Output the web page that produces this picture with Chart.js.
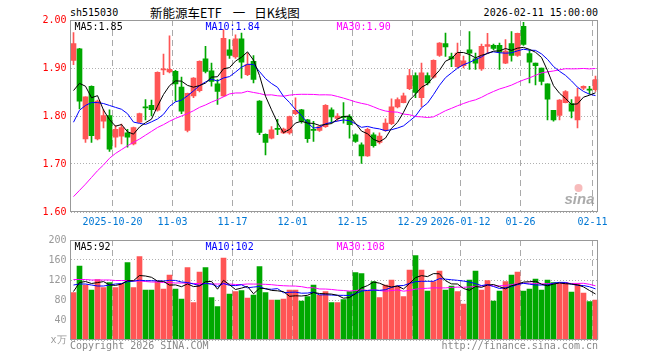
<!DOCTYPE html>
<html>
<head>
<meta charset="utf-8">
<script src="https://cdn.jsdelivr.net/npm/chart.js@4.4.1/dist/chart.umd.min.js"></script>
<style>
  body { margin: 0; background: #fff; width: 660px; height: 360px; position: relative; overflow: hidden; }
  canvas { position: absolute; left: 0; }
  .t { position: absolute; font-family: "DejaVu Sans Mono", monospace; font-size: 10px; line-height: 12px; white-space: nowrap; color: #000; }
  .ttl { font-family: "Noto Sans CJK SC", sans-serif; font-size: 12.5px; line-height: 16px; }
  .ft { color: #888; }
</style>
</head>
<body>
<div class="t" style="left:70px;top:7px">sh515030</div>
<div class="t ttl" style="left:150px;top:5px">新能源车ETF<span style="margin-left:11px">一</span><span style="margin-left:9px">日K线图</span></div>
<div class="t" style="right:62px;top:7px">2026-02-11 15:00:00</div>
<canvas id="kline" width="660" height="230" style="top:0"></canvas>
<canvas id="vol" width="660" height="130" style="top:230px"></canvas>
<div class="t ft" style="left:70px;top:340px">Copyright 2026 SINA.COM</div>
<div class="t ft" style="right:62px;top:340px">http://finance.sina.com.cn</div>
<script>
// trading days
const dates = [
  '2025-10-09','2025-10-10','2025-10-13','2025-10-14','2025-10-15','2025-10-16','2025-10-17',
  '2025-10-20','2025-10-21','2025-10-22','2025-10-23','2025-10-24','2025-10-27','2025-10-28','2025-10-29','2025-10-30','2025-10-31',
  '2025-11-03','2025-11-04','2025-11-05','2025-11-06','2025-11-07','2025-11-10','2025-11-11','2025-11-12','2025-11-13','2025-11-14',
  '2025-11-17','2025-11-18','2025-11-19','2025-11-20','2025-11-21','2025-11-24','2025-11-25','2025-11-26','2025-11-27','2025-11-28',
  '2025-12-01','2025-12-02','2025-12-03','2025-12-04','2025-12-05','2025-12-08','2025-12-09','2025-12-10','2025-12-11','2025-12-12',
  '2025-12-15','2025-12-16','2025-12-17','2025-12-18','2025-12-19','2025-12-22','2025-12-23','2025-12-24','2025-12-25','2025-12-26',
  '2025-12-29','2025-12-30','2025-12-31',
  '2026-01-05','2026-01-06','2026-01-07','2026-01-08','2026-01-09','2026-01-12','2026-01-13','2026-01-14','2026-01-15','2026-01-16',
  '2026-01-19','2026-01-20','2026-01-21','2026-01-22','2026-01-23','2026-01-26','2026-01-27','2026-01-28','2026-01-29','2026-01-30',
  '2026-02-02','2026-02-03','2026-02-04','2026-02-05','2026-02-06','2026-02-09','2026-02-10','2026-02-11'
]
const tickDates = ['2025-10-20','2025-11-03','2025-11-17','2025-12-01','2025-12-15','2025-12-29','2026-01-12','2026-01-26','2026-02-11']
const tickTexts = ['2025-10-20','11-03','11-17','12-01','12-15','12-29','2026-01-12','01-26','02-11']

const opens = [
  1.916,1.940,1.752,1.862,1.752,1.789,1.801,1.756,1.758,1.765,
  1.742,1.787,1.819,1.822,1.812,1.896,1.892,1.893,1.860,1.770,
  1.842,1.853,1.919,1.894,1.867,1.842,1.938,1.923,1.961,1.886,
  1.914,1.831,1.762,1.754,1.774,1.765,1.765,1.805,1.813,1.792,
  1.772,1.770,1.778,1.813,1.795,1.799,1.799,1.761,1.740,1.717,
  1.761,1.745,1.770,1.784,1.819,1.828,1.857,1.884,1.838,1.884,
  1.881,1.926,1.951,1.924,1.903,1.905,1.938,1.919,1.898,1.945,
  1.947,1.947,1.910,1.951,1.926,1.987,1.930,1.910,1.900,1.867,
  1.812,1.801,1.828,1.826,1.792,1.858,1.855,1.855
]
const highs = [
  1.974,1.941,1.840,1.863,1.833,1.813,1.813,1.780,1.783,1.772,
  1.777,1.806,1.834,1.833,1.892,1.929,1.967,1.895,1.881,1.848,
  1.880,1.915,1.945,1.910,1.876,1.980,1.959,1.969,1.973,1.931,
  1.926,1.832,1.763,1.778,1.793,1.775,1.800,1.838,1.814,1.793,
  1.789,1.780,1.824,1.817,1.805,1.828,1.803,1.763,1.744,1.775,
  1.765,1.765,1.794,1.836,1.838,1.848,1.897,1.890,1.910,1.890,
  1.917,1.953,1.973,1.931,1.952,1.925,1.976,1.931,1.950,1.972,
  1.950,1.952,1.959,1.976,1.973,1.995,1.938,1.910,1.900,1.867,
  1.812,1.834,1.853,1.834,1.858,1.863,1.862,1.883
]
const lows = [
  1.907,1.815,1.745,1.745,1.750,1.775,1.726,1.735,1.742,1.735,
  1.740,1.786,1.792,1.800,1.810,1.886,1.890,1.831,1.805,1.767,
  1.838,1.850,1.890,1.862,1.824,1.841,1.920,1.920,1.879,1.884,
  1.869,1.761,1.719,1.752,1.761,1.763,1.762,1.803,1.785,1.745,
  1.747,1.768,1.776,1.785,1.790,1.785,1.754,1.745,1.701,1.716,
  1.735,1.742,1.768,1.782,1.817,1.827,1.855,1.838,1.819,1.865,
  1.879,1.924,1.924,1.903,1.900,1.900,1.897,1.897,1.895,1.931,
  1.938,1.897,1.909,1.914,1.924,1.947,1.869,1.865,1.865,1.792,
  1.789,1.792,1.827,1.796,1.775,1.855,1.846,1.851
]
const closes = [
  1.951,1.831,1.840,1.759,1.831,1.801,1.731,1.772,1.776,1.756,
  1.776,1.805,1.817,1.813,1.891,1.898,1.897,1.867,1.810,1.847,
  1.879,1.914,1.893,1.872,1.851,1.962,1.926,1.961,1.912,1.907,
  1.876,1.766,1.745,1.771,1.772,1.773,1.799,1.812,1.789,1.753,
  1.770,1.778,1.822,1.798,1.800,1.797,1.782,1.747,1.717,1.772,
  1.738,1.758,1.785,1.819,1.834,1.842,1.884,1.849,1.890,1.869,
  1.916,1.952,1.944,1.919,1.931,1.915,1.931,1.910,1.945,1.949,
  1.941,1.933,1.935,1.926,1.972,1.949,1.912,1.905,1.872,1.835,
  1.792,1.833,1.851,1.810,1.840,1.862,1.854,1.876
]
// 成交量(万)
const volumes = [
  95,148,110,100,121,105,115,105,113,155,
  105,167,100,100,117,102,130,102,82,145,
  75,136,145,85,67,164,92,97,99,84,
  90,147,95,80,80,82,100,100,78,87,
  110,90,97,75,75,81,97,135,133,98,
  117,85,110,120,108,87,140,169,140,98,
  117,138,100,108,97,72,120,138,100,119,
  78,98,117,130,136,98,102,122,100,120,
  115,113,115,96,113,94,77,80
]

// moving average values at the left edge (history not shown)
const ma5Head = [1.853,1.868,1.862,1.838]
const ma10Head = [1.787,1.812,1.822,1.828,1.828,1.826,1.822,1.818,1.814]
const ma30Head = [
  1.632,1.645,1.658,1.672,1.686,1.698,1.712,1.722,1.730,1.738,
  1.745,1.752,1.760,1.768,1.776,1.782,1.789,1.795,1.800,1.805,
  1.811,1.818,1.823,1.829,1.834,1.840,1.846,1.848,1.848
]
const volMa5Head = [97,115,117,113]
const volMa10Head = [110,112,112,110,108,108,110,112,113]
const volMa30Head = [
  121,121,121,120,120,120,120,119,119,119,
  118,118,117,116,116,115,115,114,114,114,
  113,113,113,112,112,112,112,111,111
]

const RED = '#ff5555'
const GREEN = '#00a800'
const MONO = 'DejaVu Sans Mono'

function movAvg(vals, n, head) {
  return vals.map((v, i) => {
    if (i < n - 1) return head[i]
    let s = 0
    for (let k = i - n + 1; k <= i; k++) s += vals[k]
    return s / n
  })
}

const colors = closes.map((c, i) => c >= opens[i] ? RED : GREEN)
const bodies = opens.map((o, i) => [o, closes[i]])
const wicks = lows.map((l, i) => [l, highs[i]])

const ma5 = movAvg(closes, 5, ma5Head)
const ma10 = movAvg(closes, 10, ma10Head)
const ma30 = movAvg(closes, 30, ma30Head)
const vma5 = movAvg(volumes, 5, volMa5Head)
const vma10 = movAvg(volumes, 10, volMa10Head)
const vma30 = movAvg(volumes, 30, volMa30Head)

function gridColor(c) {
  if (c.tick && tickDates.includes(dates[c.index])) return '#aaaaaa'
  return 'rgba(0,0,0,0)'
}

function tickLabel(val, idx) {
  const k = tickDates.indexOf(dates[idx])
  return k >= 0 ? tickTexts[k] : ''
}

// border + MA legend + watermark
const frame = {
  id: 'frame',
  afterDraw(chart, args, opts) {
    const ctx = chart.ctx
    const a = chart.chartArea
    ctx.save()
    ctx.strokeStyle = '#999'
    ctx.lineWidth = 1
    const l = Math.floor(a.left) + 0.5, t = Math.floor(a.top) + 0.5
    const r = Math.floor(a.right) - 0.5, b = Math.floor(a.bottom) - 0.5
    ctx.strokeRect(l, t, r - l, b - t)
    ctx.font = '10px "' + MONO + '"'
    ctx.textBaseline = 'middle'
    opts.items.forEach(it => {
      ctx.fillStyle = it.color
      ctx.fillText(it.text, a.left + it.dx, a.top + 7)
    })
    if (opts.mark) {
      ctx.fillStyle = 'rgba(150,150,150,0.8)'
      ctx.font = 'italic bold 15px "Liberation Sans"'
      ctx.fillText('sina', a.right - 34, a.bottom - 12)
      ctx.fillStyle = 'rgba(240,120,120,0.5)'
      ctx.beginPath()
      ctx.arc(a.right - 20, a.bottom - 24, 4, 0, Math.PI * 2)
      ctx.fill()
    }
    ctx.restore()
  }
}

const xAxis = (showLabels) => ({
  type: 'category',
  offset: true,
  grid: { offset: true, color: gridColor, lineWidth: 1, drawTicks: false, borderDash: [6, 4] },
  border: { display: false, dash: [6, 4] },
  ticks: {
    display: showLabels, autoSkip: false, maxRotation: 0, minRotation: 0,
    padding: 4, labelOffset: -3, color: '#0077d4',
    font: { family: MONO, size: 10 },
    callback: tickLabel
  },
  afterFit: s => { s.height = showLabels ? 18 : 0 }
})

const last = arr => arr[arr.length - 1]

new Chart(document.getElementById('kline'), {
  type: 'bar',
  data: {
    labels: dates,
    datasets: [
      { type: 'line', data: ma5, borderColor: '#000000', borderWidth: 1, pointRadius: 0, tension: 0, order: 0 },
      { type: 'line', data: ma10, borderColor: '#0000ff', borderWidth: 1, pointRadius: 0, tension: 0, order: 0 },
      { type: 'line', data: ma30, borderColor: '#ff00ff', borderWidth: 1, pointRadius: 0, tension: 0, order: 0 },
      { data: bodies, backgroundColor: colors, barThickness: 5, grouped: false, minBarLength: 1, order: 1 },
      { data: wicks, backgroundColor: colors, barThickness: 1, grouped: false, minBarLength: 1, order: 2 }
    ]
  },
  options: {
    responsive: false,
    animation: false,
    events: [],
    layout: { padding: { left: 0, right: 61.5, top: 20, bottom: 0 } },
    plugins: {
      legend: { display: false },
      tooltip: { enabled: false },
      frame: {
        mark: true,
        items: [
          { text: 'MA5:' + last(ma5).toFixed(2), color: '#000000', dx: 4 },
          { text: 'MA10:' + last(ma10).toFixed(2), color: '#0000ff', dx: 135 },
          { text: 'MA30:' + last(ma30).toFixed(2), color: '#ff00ff', dx: 266 }
        ]
      }
    },
    scales: {
      x: xAxis(true),
      y: {
        min: 1.6, max: 2.0,
        ticks: { stepSize: 0.1, padding: 4, color: '#ff0000', font: { family: MONO, size: 10 }, callback: v => v.toFixed(2) },
        grid: { color: '#b0b0b0', drawTicks: false, borderDash: [1, 2] },
        border: { display: false, dash: [1, 2] },
        afterFit: s => { s.width = 70.5 }
      }
    }
  },
  plugins: [frame]
})

new Chart(document.getElementById('vol'), {
  type: 'bar',
  data: {
    labels: dates,
    datasets: [
      { type: 'line', data: vma5, borderColor: '#000000', borderWidth: 1, pointRadius: 0, tension: 0, order: 0 },
      { type: 'line', data: vma10, borderColor: '#0000ff', borderWidth: 1, pointRadius: 0, tension: 0, order: 0 },
      { type: 'line', data: vma30, borderColor: '#ff00ff', borderWidth: 1, pointRadius: 0, tension: 0, order: 0 },
      { data: volumes, backgroundColor: colors, barThickness: 5, grouped: false, order: 1 }
    ]
  },
  options: {
    responsive: false,
    animation: false,
    events: [],
    layout: { padding: { left: 0, right: 61.5, top: 10, bottom: 20 } },
    plugins: {
      legend: { display: false },
      tooltip: { enabled: false },
      frame: {
        mark: false,
        items: [
          { text: 'MA5:' + Math.round(last(vma5)), color: '#000000', dx: 4 },
          { text: 'MA10:' + Math.round(last(vma10)), color: '#0000ff', dx: 135 },
          { text: 'MA30:' + Math.round(last(vma30)), color: '#ff00ff', dx: 266 }
        ]
      }
    },
    scales: {
      x: xAxis(false),
      y: {
        min: 0, max: 200,
        ticks: { stepSize: 40, padding: 4, color: '#999999', font: { family: MONO, size: 10 }, callback: v => v === 0 ? 'x万' : v },
        grid: { color: '#b0b0b0', drawTicks: false, borderDash: [1, 2] },
        border: { display: false, dash: [1, 2] },
        afterFit: s => { s.width = 70.5 }
      }
    }
  },
  plugins: [frame]
})
</script>
</body>
</html>
